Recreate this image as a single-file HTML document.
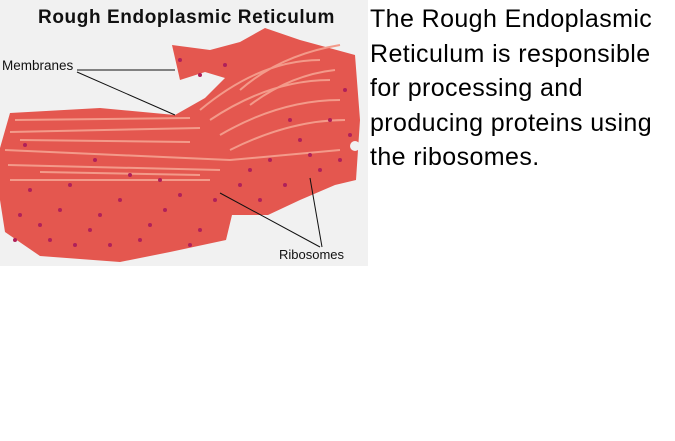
<!DOCTYPE html>
<html><head><style>
body{margin:0;width:675px;height:441px;background:#fff;position:relative;overflow:hidden;font-family:"Liberation Sans",sans-serif}
#desc{position:absolute;left:370px;top:2px;font-size:25px;letter-spacing:0.4px;line-height:34.6px;color:#000}
</style></head><body>
<svg width="368" height="266" style="position:absolute;left:0;top:0">
<rect width="368" height="266" fill="#f1f1f1"/>
<text x="38" y="23" font-size="19" font-weight="bold" letter-spacing="0.6" fill="#111">Rough Endoplasmic Reticulum</text>
<path d="M0,148 L10,113 L100,108 L175,115 L205,98 L225,78 L205,72 L180,80 L172,45 L210,50 L240,42 L265,28 L300,40 L355,55 L360,120 L356,180 L335,185 L300,200 L268,215 L232,215 L226,240 L170,252 L120,262 L40,256 L5,232 L0,200 Z" fill="#e4574f"/>
<path d="M5,150 L230,160 L340,150 M8,165 L220,170 M10,132 L200,128 M15,120 L190,118 M200,110 Q260,60 320,60 M210,120 Q270,80 330,80 M220,135 Q280,100 340,100 M230,150 Q290,120 345,120 M10,180 L210,180 M240,90 Q280,55 340,45 M20,140 L190,142 M40,172 L200,175 M250,105 Q290,75 335,70" stroke="#f39a8a" stroke-width="2" fill="none"/>
<g fill="#b0205a">
<circle cx="30" cy="190" r="2"/><circle cx="60" cy="210" r="2"/><circle cx="90" cy="230" r="2"/><circle cx="120" cy="200" r="2"/><circle cx="150" cy="225" r="2"/><circle cx="180" cy="195" r="2"/><circle cx="200" cy="230" r="2"/><circle cx="240" cy="185" r="2"/><circle cx="270" cy="160" r="2"/><circle cx="300" cy="140" r="2"/><circle cx="330" cy="120" r="2"/><circle cx="345" cy="90" r="2"/><circle cx="320" cy="170" r="2"/><circle cx="50" cy="240" r="2"/><circle cx="20" cy="215" r="2"/><circle cx="110" cy="245" r="2"/><circle cx="180" cy="60" r="2"/><circle cx="200" cy="75" r="2"/><circle cx="70" cy="185" r="2"/><circle cx="160" cy="180" r="2"/><circle cx="260" cy="200" r="2"/>
<circle cx="40" cy="225" r="2"/><circle cx="75" cy="245" r="2"/><circle cx="140" cy="240" r="2"/><circle cx="165" cy="210" r="2"/><circle cx="190" cy="245" r="2"/><circle cx="215" cy="200" r="2"/><circle cx="250" cy="170" r="2"/><circle cx="285" cy="185" r="2"/><circle cx="310" cy="155" r="2"/><circle cx="340" cy="160" r="2"/><circle cx="350" cy="135" r="2"/><circle cx="25" cy="145" r="2"/><circle cx="95" cy="160" r="2"/><circle cx="130" cy="175" r="2"/><circle cx="15" cy="240" r="2"/><circle cx="100" cy="215" r="2"/><circle cx="225" cy="65" r="2"/><circle cx="290" cy="120" r="2"/>
</g>
<circle cx="355" cy="146" r="5" fill="#f1f1f1"/>
<text x="2" y="70" font-size="13.5" fill="#111">Membranes</text>
<path d="M77,70 L175,70 M77,72 L175,115" stroke="#111" stroke-width="1" fill="none"/>
<text x="279" y="259" font-size="13" fill="#111">Ribosomes</text>
<path d="M320,247 L220,193 M322,247 L310,178" stroke="#111" stroke-width="1" fill="none"/>
</svg>
<div id="desc">The Rough Endoplasmic<br>Reticulum is responsible<br>for processing and<br>producing proteins using<br>the ribosomes.</div>
</body></html>
